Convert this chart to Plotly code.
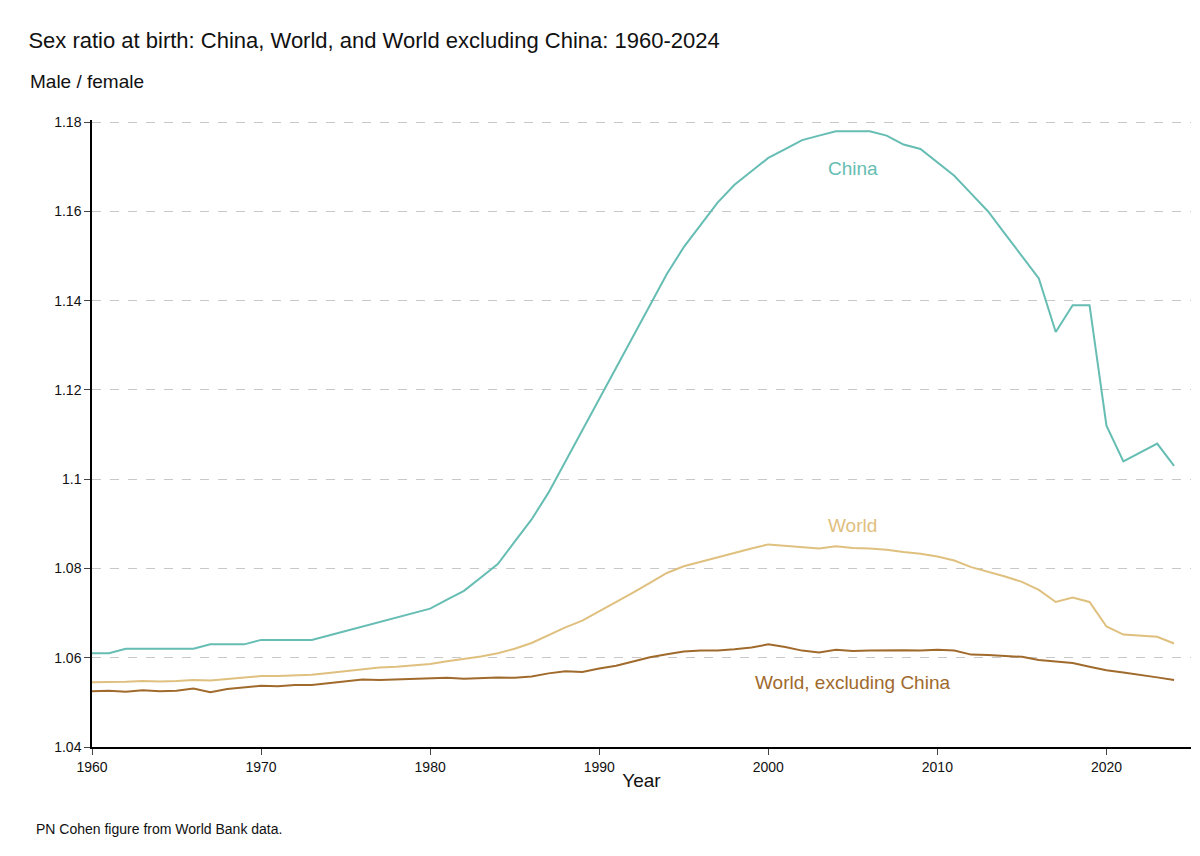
import plotly.graph_objects as go

years = list(range(1960, 2025))
china = [1.061,1.061,1.062,1.062,1.062,1.062,1.062,1.063,1.063,1.063,
         1.064,1.064,1.064,1.064,1.065,1.066,1.067,1.068,1.069,1.070,
         1.071,1.073,1.075,1.078,1.081,1.086,1.091,1.097,1.104,1.111,
         1.118,1.125,1.132,1.139,1.146,1.152,1.157,1.162,1.166,1.169,
         1.172,1.174,1.176,1.177,1.178,1.178,1.178,1.177,1.175,1.174,
         1.171,1.168,1.164,1.160,1.155,1.150,1.145,1.133,1.139,1.139,
         1.112,1.104,1.106,1.108,1.103]
world = [1.0545,1.0545,1.0546,1.0548,1.0547,1.0548,1.0550,1.0549,1.0552,1.0555,
         1.0559,1.0559,1.0561,1.0562,1.0566,1.0570,1.0575,1.0578,1.0580,1.0583,
         1.0586,1.0592,1.0597,1.0603,1.0610,1.0620,1.0633,1.0650,1.0668,1.0683,
         1.0704,1.0724,1.0746,1.0768,1.0790,1.0805,1.0815,1.0825,1.0836,1.0845,
         1.0854,1.0851,1.0848,1.0845,1.0850,1.0846,1.0845,1.0842,1.0837,1.0833,
         1.0827,1.0818,1.0803,1.0793,1.0782,1.0770,1.0752,1.0725,1.0735,1.0725,
         1.0670,1.0652,1.0649,1.0647,1.0632]
world_ex = [1.0525,1.0526,1.0524,1.0527,1.0525,1.0526,1.0531,1.0523,1.0530,1.0533,
            1.0537,1.0536,1.0539,1.0539,1.0543,1.0547,1.0551,1.0550,1.0551,1.0552,
            1.0553,1.0555,1.0553,1.0555,1.0556,1.0555,1.0558,1.0565,1.0570,1.0568,
            1.0576,1.0582,1.0592,1.0601,1.0608,1.0614,1.0616,1.0616,1.0619,1.0623,
            1.0630,1.0624,1.0616,1.0612,1.0618,1.0615,1.0616,1.0617,1.0617,1.0616,
            1.0618,1.0616,1.0607,1.0606,1.0604,1.0602,1.0595,1.0591,1.0588,1.0580,
            1.0572,1.0567,1.0562,1.0556,1.0550]

series = [("China", china, "#66bdb3", 2005, 1.1697),
          ("World", world, "#dfc07f", 2005, 1.0897),
          ("World, excluding China", world_ex, "#a06a2c", 2005, 1.0545)]

fig = go.Figure()
for name, vals, col, lx, ly in series:
    fig.add_trace(go.Scatter(x=years, y=vals, mode="lines", name=name,
                             line=dict(color=col, width=2)))
    fig.add_annotation(x=lx, y=ly, text=name, showarrow=False,
                       font=dict(size=19, color=col), yanchor="middle")

fig.update_layout(
    width=1200, height=856, showlegend=False,
    plot_bgcolor="white", paper_bgcolor="white",
    font=dict(family="Arial, Liberation Sans, sans-serif", color="#111"),
    margin=dict(l=84, r=17, t=112, b=117, autoexpand=False),
    title=dict(text="Sex ratio at birth: China, World, and World excluding China: 1960-2024",
               x=0.017, xanchor="left", y=0.962, yanchor="middle", font=dict(size=22)),
    xaxis=dict(range=[1960, 2025], tickvals=[1960,1970,1980,1990,2000,2010,2020],
               showline=True, linecolor="black", linewidth=1.5, ticks="outside",
               ticklen=6, showgrid=False, zeroline=False, tickfont=dict(size=14),
               title=dict(text="Year", font=dict(size=19), standoff=0)),
    yaxis=dict(range=[1.04, 1.1805], dtick=0.02, tickformat="~g",
               showline=True, linecolor="black", linewidth=1.5, ticks="outside",
               ticklen=6, showgrid=True, gridcolor="#c8c8c8", griddash="dash",
               zeroline=False, tickfont=dict(size=14)),
)
fig.add_annotation(xref="paper", yref="paper", x=-0.058, y=1.061, text="Male / female",
                   showarrow=False, xanchor="left", yanchor="middle", font=dict(size=19))
fig.add_annotation(xref="paper", yref="paper", x=-0.053, y=-0.13,
                   text="PN Cohen figure from World Bank data.",
                   showarrow=False, xanchor="left", yanchor="middle", font=dict(size=14))
fig.write_html("out.html")
